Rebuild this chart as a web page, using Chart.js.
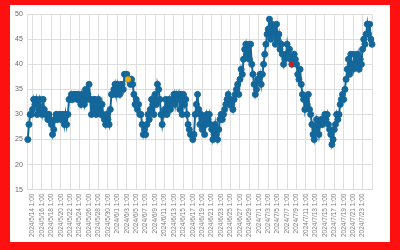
<!DOCTYPE html>
<html>
<head>
<meta charset="utf-8">
<script src="https://cdn.jsdelivr.net/npm/chart.js@4"></script>
<style>
  html, body { margin: 0; padding: 0; background: #ff1010; width: 400px; height: 250px; overflow: hidden; }
  #box { position: absolute; left: 10px; top: 5px; width: 380px; height: 237px; background: #ffffff; }
  canvas { display: block; }
</style>
</head>
<body>
<div id="box"><canvas id="c" width="380" height="237"></canvas></div>
<script>
// Series: readings every 6 hours starting 2024/5/13 1:00
const startDate = [2024, 5, 13, 1];
const stepHours = 6;
const values = [
  25, 28, 30, 30,   31, 33, 32, 33,   30, 32, 33, 31,   30, 33, 31, 30,
  30, 29, 30, 29,   28, 26, 27, 29,   30, 29, 30, 30,   29, 30, 30, 28,
  30, 28, 30, 33,   33, 34, 33, 34,   34, 34, 33, 34,   33, 32, 34, 33,
  32, 35, 33, 34,   36, 33, 30, 33,   31, 33, 30, 32,   33, 31, 30, 32,
  30, 29, 28, 30,   29, 28, 31, 34,   34, 35, 36, 34,   36, 35, 34, 36,
  36, 35, 38, 38,   38, 37, 37, 36,   37, 36, 34, 32,   33, 31, 32, 30,
  30, 28, 26, 27,   26, 28, 30, 29,   31, 33, 32, 30,   34, 32, 36, 35,
  33, 30, 28, 30,   31, 33, 30, 32,   33, 31, 32, 33,   34, 32, 34, 33,
  34, 31, 34, 30,   34, 32, 33, 30,   28, 27, 26, 26,   25, 26, 30, 32,
  34, 31, 28, 30,   27, 29, 26, 28,   30, 29, 30, 28,   27, 25, 26, 28,
  26, 25, 27, 29,   30, 29, 30, 31,   32, 33, 34, 32,   33, 32, 31, 33,
  34, 35, 36, 34,   37, 39, 38, 41,   43, 44, 42, 44,   41, 44, 40, 38,
  36, 34, 35, 37,   37, 38, 36, 38,   40, 42, 44, 46,   47, 49, 45, 48,
  46, 47, 44, 48,   45, 46, 43, 44,   42, 40, 41, 42,   44, 42, 43, 41,
  40, 41, 42, 41,   40, 38, 37, 39,   36, 34, 33, 31,   33, 32, 34, 31,
  30, 28, 26, 25,   27, 29, 28, 26,   28, 29, 28, 29,   30, 29, 30, 28,
  27, 26, 24, 25,   27, 28, 30, 29,   30, 32, 33, 34,   33, 35, 37, 39,
  41, 38, 42, 40,   39, 42, 40, 41,   42, 39, 41, 40,   43, 45, 44, 46,
  48, 46, 48, 45,   44
];
const orangeIndex = [85];   // 2024/6/3 7:00
const redIndex = [224];     // 2024/7/8 1:00
const yTicks = [15, 20, 25, 30, 35, 40, 45, 50];

// category labels
const labels = [];
{
  const t0 = Date.UTC(startDate[0], startDate[1] - 1, startDate[2], startDate[3]);
  for (let i = 0; i < values.length; i++) {
    const d = new Date(t0 + i * stepHours * 3600000);
    labels.push(d.getUTCFullYear() + '/' + (d.getUTCMonth() + 1) + '/' + d.getUTCDate() + ' ' + d.getUTCHours() + ':00');
  }
}
const firstLabel = 4, labelEvery = 8, lastLabel = 284;

const blue = '#13679a';
const highlight = values.map((v, i) => (orangeIndex.includes(i) || redIndex.includes(i)) ? v : null);
const hlColors = values.map((v, i) => orangeIndex.includes(i) ? '#f2a900' : (redIndex.includes(i) ? '#e8121b' : 'rgba(0,0,0,0)'));
const hlStyles = values.map((v, i) => redIndex.includes(i) ? 'rect' : 'circle');

new Chart(document.getElementById('c'), {
  type: 'line',
  data: {
    labels: labels,
    datasets: [
      {
        data: highlight,
        showLine: false,
        pointRadius: 3,
        pointBorderWidth: 0,
        pointBackgroundColor: hlColors,
        pointBorderColor: hlColors,
        pointStyle: hlStyles,
        order: 0
      },
      {
        data: values,
        borderColor: blue,
        backgroundColor: blue,
        borderWidth: 2,
        pointRadius: 3,
        pointBorderWidth: 1,
        pointBackgroundColor: blue,
        pointBorderColor: blue,
        tension: 0,
        order: 1
      }
    ]
  },
  options: {
    responsive: false,
    animation: false,
    events: [],
    layout: { padding: { left: 0, right: 18, top: 8, bottom: 1 } },
    plugins: { legend: { display: false }, tooltip: { enabled: false } },
    scales: {
      x: {
        grid: { color: '#dedede', lineWidth: 1, drawTicks: false },
        border: { color: '#dedede' },
        ticks: {
          autoSkip: false,
          maxRotation: 90,
          minRotation: 90,
          padding: 4,
          color: '#808080',
          font: { family: 'Liberation Sans', size: 6.5 },
          callback: function (val, idx) {
            if (idx === values.length - 1) return '';
            if (idx >= firstLabel && idx <= lastLabel && (idx - firstLabel) % labelEvery === 0) return labels[idx];
            return null;
          }
        }
      },
      y: {
        min: yTicks[0],
        max: yTicks[yTicks.length - 1],
        afterBuildTicks: (axis) => { axis.ticks = yTicks.map(v => ({ value: v })); },
        grid: { color: '#dedede', lineWidth: 1, drawTicks: false },
        border: { color: '#dedede' },
        ticks: {
          padding: 5,
          color: '#666',
          font: { family: 'Liberation Sans', size: 7 }
        }
      }
    }
  }
});
</script>
</body>
</html>
